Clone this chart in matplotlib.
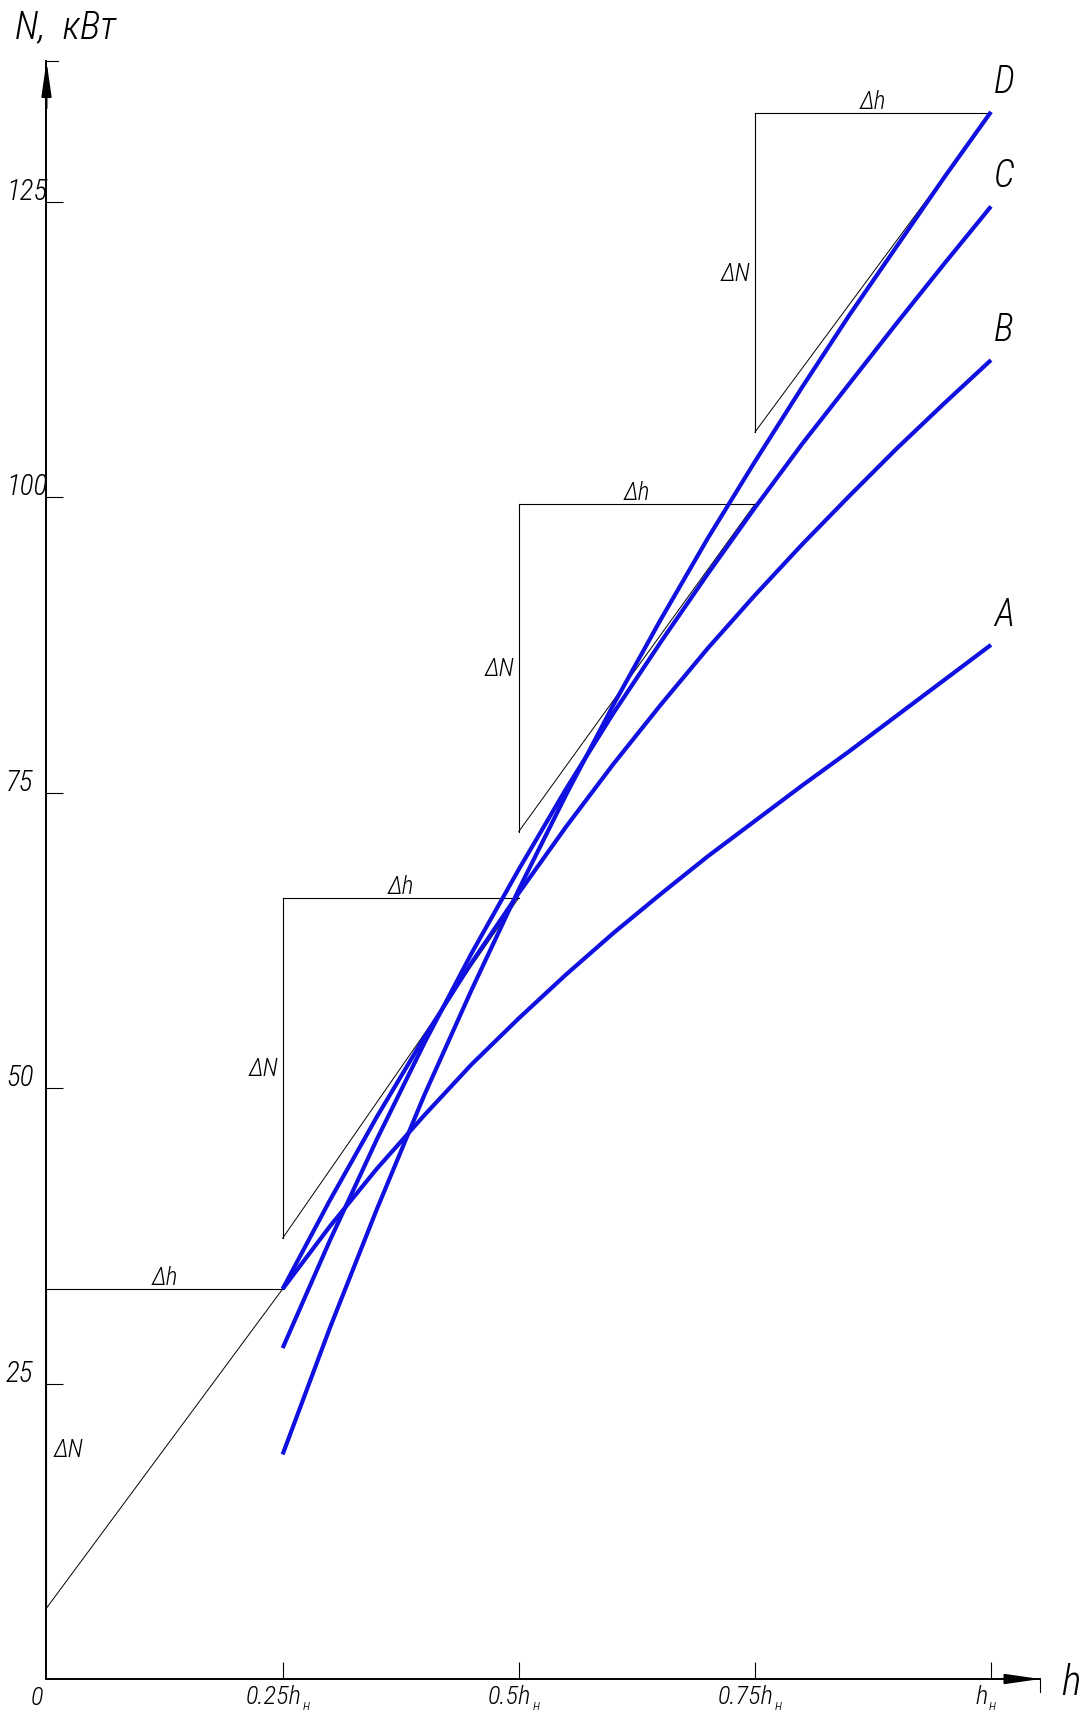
import matplotlib
matplotlib.use("Agg")
import matplotlib.pyplot as plt
from matplotlib import font_manager, transforms

# relative head h / h_nom where the curves were read
h_pts = [0.25, 0.30, 0.35, 0.40, 0.45, 0.50, 0.55, 0.60, 0.65,
         0.70, 0.75, 0.80, 0.85, 0.90, 0.95, 1.00]

# power N, kW
N_A = [33.0, 38.3, 43.2, 47.7, 52.0, 55.9, 59.6, 63.1, 66.4,
       69.6, 72.6, 75.6, 78.5, 81.5, 84.5, 87.5]
N_B = [33.0, 40.5, 47.6, 54.3, 60.6, 66.5, 72.1, 77.4, 82.4,
       87.2, 91.7, 96.0, 100.1, 104.1, 107.9, 111.6]
N_C = [28.0, 37.1, 45.7, 53.8, 61.4, 68.5, 75.3, 81.7, 87.7,
       93.5, 99.1, 104.5, 109.6, 114.7, 119.7, 124.6]
N_D = [19.0, 29.7, 39.8, 49.4, 58.3, 66.8, 74.8, 82.4, 89.6,
       96.5, 103.0, 109.3, 115.4, 121.2, 127.0, 132.6]
curve_names = ["A", "B", "C", "D"]

# slope triangles: left h, right h, foot of hypotenuse, top level
tri_h0 = [0.0, 0.25, 0.50, 0.75]
tri_h1 = [0.25, 0.50, 0.75, 1.00]
tri_low = [6.0, 37.3, 71.7, 105.5]
tri_top = [33.0, 66.1, 99.4, 132.5]

xtick_vals = [0.25, 0.50, 0.75, 1.00]
xtick_main = ["0.25h", "0.5h", "0.75h", "h"]
ytick_vals = [25, 50, 75, 100, 125]

# narrow font if there is one, close to the drafting font of the original
names = {f.name for f in font_manager.fontManager.ttflist}
FONT = "DejaVu Sans"
for cand in ["Liberation Sans Narrow", "Roboto Condensed", "Open Sans Condensed"]:
    if cand in names:
        FONT = cand
        break
plt.rcParams["font.family"] = [FONT, "DejaVu Sans"]
plt.rcParams["font.style"] = "italic"
plt.rcParams["font.weight"] = "light"

BLUE = "#1010e0"
N_TIP = 136.9
H_TIP = 1.0524

fig = plt.figure(figsize=(10.85, 17.15), dpi=100)
ax = fig.add_axes([0, 0, 1, 1])
ax.set_xlim(-0.04923, 1.09953)
ax.set_ylim(-2.96, 142.15)


def shift(dx, dy):
    return transforms.offset_copy(ax.transData, fig=fig, x=dx, y=dy, units="dots")


# axes through the origin, ticks pointing inwards
for side in ["top", "right"]:
    ax.spines[side].set_visible(False)
ax.spines["left"].set_position(("data", 0))
ax.spines["bottom"].set_position(("data", 0))
ax.spines["left"].set_bounds(0, N_TIP)
ax.spines["bottom"].set_bounds(0, H_TIP)
ax.spines["left"].set_linewidth(1.4)
ax.spines["bottom"].set_linewidth(1.4)
ax.set_xticks(xtick_vals)
ax.set_yticks(ytick_vals)
ax.tick_params(direction="in", length=12.5, width=0.8,
               labelbottom=False, labelleft=False)

ax.annotate("", xy=(0, N_TIP), xytext=(0, N_TIP - 4),
            arrowprops=dict(arrowstyle="-|>,head_length=2.1,head_width=0.3",
                            mutation_scale=10, lw=1.4, color="black",
                            shrinkA=0, shrinkB=0))
ax.annotate("", xy=(H_TIP, 0), xytext=(H_TIP - 0.04, 0),
            arrowprops=dict(arrowstyle="-|>,head_length=2.1,head_width=0.3",
                            mutation_scale=10, lw=1.4, color="black",
                            shrinkA=0, shrinkB=0))
ax.plot([0, 0.0125], [N_TIP, N_TIP], color="black", lw=0.8)
ax.plot([H_TIP, H_TIP], [0, -1.1], color="black", lw=0.8)

# tick labels
for v in ytick_vals:
    ax.text(-0.0429, v, str(v), transform=shift(0, 3), ha="left",
            va="baseline", fontsize=21)
ax.text(-0.004, 0, "0", transform=shift(0, -6), ha="right", va="top", fontsize=19)
for v, lab in zip(xtick_vals, xtick_main):
    t = ax.text(v, 0, lab, transform=shift(-9, -5), ha="center", va="top",
                fontsize=19)
    ax.annotate("н", xy=(1.0, 0.0), xycoords=t, xytext=(1, -1),
                textcoords="offset pixels", ha="left", va="baseline", fontsize=11)

ax.text(-0.0334, 138.9, "N,  кВт", ha="left", va="baseline", fontsize=28)
ax.text(1.074, -1.27, "h", ha="left", va="baseline", fontsize=30)

# slope triangles
for h0, h1, lo, top in zip(tri_h0, tri_h1, tri_low, tri_top):
    ax.plot([h0, h0], [lo, top], color="black", lw=0.8)
    ax.plot([h0, h1], [top, top], color="black", lw=0.8)
    ax.plot([h0, h1], [lo, top], color="black", lw=0.7)
    ax.text((h0 + h1) / 2, top, "Δh", transform=shift(0, 0), ha="center",
            va="bottom", fontsize=18)
    if h0 == 0:
        ax.text(h0, (lo + top) / 2, "ΔN", transform=shift(7, 0), ha="left",
                va="center", fontsize=18)
    else:
        ax.text(h0, (lo + top) / 2, "ΔN", transform=shift(-4, 0), ha="right",
                va="center", fontsize=18)

# characteristic curves
for name, vals in zip(curve_names, [N_A, N_B, N_C, N_D]):
    ax.plot(h_pts, vals, color=BLUE, lw=3.0, solid_capstyle="butt", zorder=5)
    ax.text(h_pts[-1], vals[-1], name, transform=shift(3, 12), ha="left",
            va="bottom", fontsize=27)

fig.savefig("out.png", dpi=100, facecolor="white")
